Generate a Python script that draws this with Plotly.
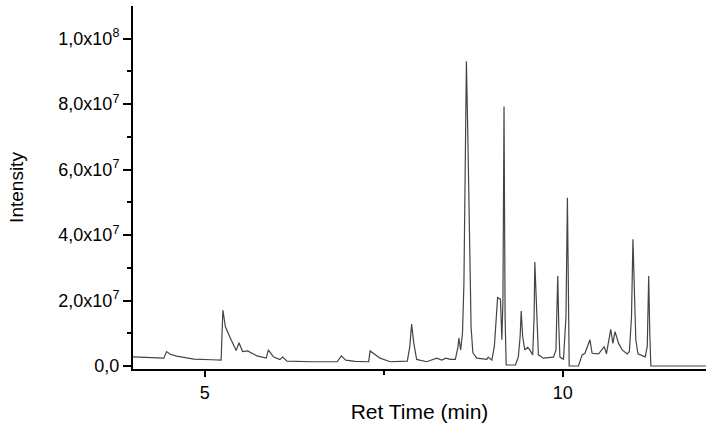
import plotly.graph_objects as go

# Retention time (min) and intensity
ret_time = [4.00, 4.20, 4.43, 4.47, 4.52, 4.61, 4.85, 5.10, 5.23, 5.255, 5.29, 5.36, 5.44, 5.48,
            5.53, 5.60, 5.73, 5.86, 5.89, 5.96, 6.05, 6.09, 6.15, 6.50, 6.85, 6.91, 6.97, 7.10,
            7.29, 7.31, 7.45, 7.59, 7.83, 7.865, 7.89, 7.92, 7.96, 8.10, 8.24, 8.31, 8.37, 8.43,
            8.50, 8.535, 8.55, 8.575, 8.60, 8.62, 8.635, 8.655, 8.675, 8.70, 8.72, 8.745, 8.80,
            8.94, 8.96, 9.01, 9.045, 9.07, 9.09, 9.13, 9.15, 9.165, 9.18, 9.195, 9.21, 9.34, 9.38,
            9.405, 9.42, 9.44, 9.47, 9.51, 9.54, 9.58, 9.60, 9.61, 9.635, 9.66, 9.73, 9.87, 9.905,
            9.92, 9.93, 9.945, 9.96, 10.01, 10.045, 10.065, 10.08, 10.09, 10.22, 10.27, 10.31,
            10.38, 10.41, 10.50, 10.58, 10.61, 10.67, 10.70, 10.73, 10.78, 10.83, 10.90, 10.93,
            10.96, 10.98, 11.00, 11.02, 11.05, 11.15, 11.18, 11.195, 11.20, 11.215, 11.23, 12.02]

intensity = [0.28e7, 0.26e7, 0.24e7, 0.44e7, 0.36e7, 0.30e7, 0.21e7, 0.19e7, 0.18e7, 1.71e7,
             1.20e7, 0.85e7, 0.47e7, 0.71e7, 0.44e7, 0.46e7, 0.31e7, 0.24e7, 0.49e7, 0.28e7,
             0.20e7, 0.27e7, 0.15e7, 0.13e7, 0.13e7, 0.31e7, 0.18e7, 0.14e7, 0.13e7, 0.46e7,
             0.24e7, 0.13e7, 0.15e7, 0.60e7, 1.28e7, 0.70e7, 0.20e7, 0.13e7, 0.24e7, 0.18e7,
             0.24e7, 0.20e7, 0.20e7, 0.55e7, 0.85e7, 0.49e7, 1.0e7, 2.5e7, 5.0e7, 9.31e7,
             7.0e7, 3.5e7, 1.2e7, 0.40e7, 0.24e7, 0.20e7, 0.27e7, 0.18e7, 0.60e7, 1.41e7,
             2.09e7, 2.04e7, 0.80e7, 2.0e7, 7.93e7, 1.5e7, 0.03e7, 0.03e7, 0.28e7, 0.9e7,
             1.68e7, 0.90e7, 0.49e7, 0.57e7, 0.49e7, 0.34e7, 1.5e7, 3.18e7, 1.5e7, 0.34e7,
             0.24e7, 0.27e7, 0.49e7, 2.1e7, 2.75e7, 1.2e7, 0.28e7, 0.20e7, 1.5e7, 5.14e7,
             1.0e7, 0.0, 0.0, 0.34e7, 0.39e7, 0.80e7, 0.39e7, 0.37e7, 0.59e7, 0.37e7,
             1.12e7, 0.69e7, 1.05e7, 0.69e7, 0.49e7, 0.37e7, 0.44e7, 1.5e7, 3.87e7, 2.0e7,
             0.80e7, 0.37e7, 0.28e7, 0.60e7, 2.0e7, 2.75e7, 1.0e7, 0.0, 0.0]

y_tick_vals = [0, 2e7, 4e7, 6e7, 8e7, 1e8]
y_tick_text = ["0,0", "2,0x10<sup>7</sup>", "4,0x10<sup>7</sup>", "6,0x10<sup>7</sup>",
               "8,0x10<sup>7</sup>", "1,0x10<sup>8</sup>"]
x_tick_vals = [5, 10]
x_tick_text = ["5", "10"]

fig = go.Figure()
fig.add_trace(go.Scatter(x=ret_time, y=intensity, mode="lines",
                         line=dict(color="#444444", width=1.2), showlegend=False))

font_family = "Liberation Sans, Arial, sans-serif"
fig.update_layout(
    width=714, height=433,
    margin=dict(l=133, r=8, t=6, b=64),
    paper_bgcolor="white", plot_bgcolor="white",
    font=dict(family=font_family, color="black", size=18),
    xaxis=dict(
        range=[4.0, 12.0], showgrid=False, zeroline=False,
        showline=True, linecolor="black", linewidth=2,
        ticks="outside", ticklen=6, tickwidth=1.5, tickcolor="black",
        tickvals=x_tick_vals, ticktext=x_tick_text,
        tickfont=dict(size=18),
        minor=dict(tickvals=[7.5], ticks="outside", ticklen=4, tickwidth=1.5, tickcolor="black"),
        title=dict(text="Ret Time (min)", font=dict(size=21), standoff=3),
    ),
    yaxis=dict(
        range=[-0.092e7, 1.10e8], showgrid=False, zeroline=False,
        showline=True, linecolor="black", linewidth=2,
        ticks="outside", ticklen=8, tickwidth=1.5, tickcolor="black",
        tickvals=y_tick_vals, ticktext=y_tick_text,
        tickfont=dict(size=18),
        minor=dict(tickvals=[1e7, 3e7, 5e7, 7e7, 9e7], ticks="outside", ticklen=4,
                   tickwidth=1.5, tickcolor="black"),
        title=dict(text="Intensity", font=dict(size=19), standoff=30),
    ),
)

fig.write_html("out.html")
